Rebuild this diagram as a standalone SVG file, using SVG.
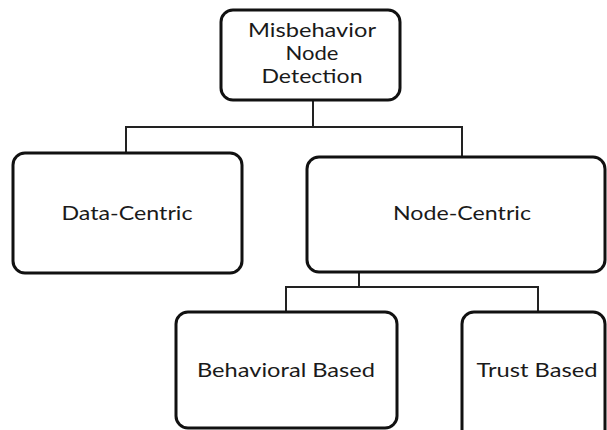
<svg xmlns="http://www.w3.org/2000/svg" width="607" height="430" viewBox="0 0 607 430">
<style>
.box{fill:#fff;stroke:#111;stroke-width:3}
.ln{fill:none;stroke:#222;stroke-width:2}
text{font-family:Lato,"Open Sans",sans-serif;font-size:19px;fill:#1a1a1a;text-anchor:middle}
</style>
<rect width="607" height="430" fill="#fff"/>
<g id="connectors">
<path class="ln" d="M313 100V127M126 153V127H462V157"/>
<path class="ln" d="M359 272V287M286 312V287H538V312"/>
</g>
<g id="n-root"><rect class="box" x="221" y="10" width="179" height="90" rx="12"/>
<text x="312" y="37" textLength="128" lengthAdjust="spacingAndGlyphs">Misbehavior</text><text x="312" y="60" textLength="53" lengthAdjust="spacingAndGlyphs">Node</text><text x="312" y="83" textLength="101" lengthAdjust="spacingAndGlyphs">Detection</text></g>
<g id="n-data"><rect class="box" x="13" y="153" width="229" height="120" rx="12"/>
<text x="127" y="220" textLength="131" lengthAdjust="spacingAndGlyphs">Data-Centric</text></g>
<g id="n-node"><rect class="box" x="307" y="157" width="298" height="115" rx="12"/>
<text x="462" y="220" textLength="138" lengthAdjust="spacingAndGlyphs">Node-Centric</text></g>
<g id="n-beh"><rect class="box" x="176" y="312" width="221" height="116" rx="12"/>
<text x="286" y="377" textLength="178" lengthAdjust="spacingAndGlyphs">Behavioral Based</text></g>
<g id="n-trust"><rect class="box" x="462" y="312" width="143" height="130" rx="12"/>
<text x="537" y="377" textLength="121" lengthAdjust="spacingAndGlyphs">Trust Based</text></g>
</svg>
